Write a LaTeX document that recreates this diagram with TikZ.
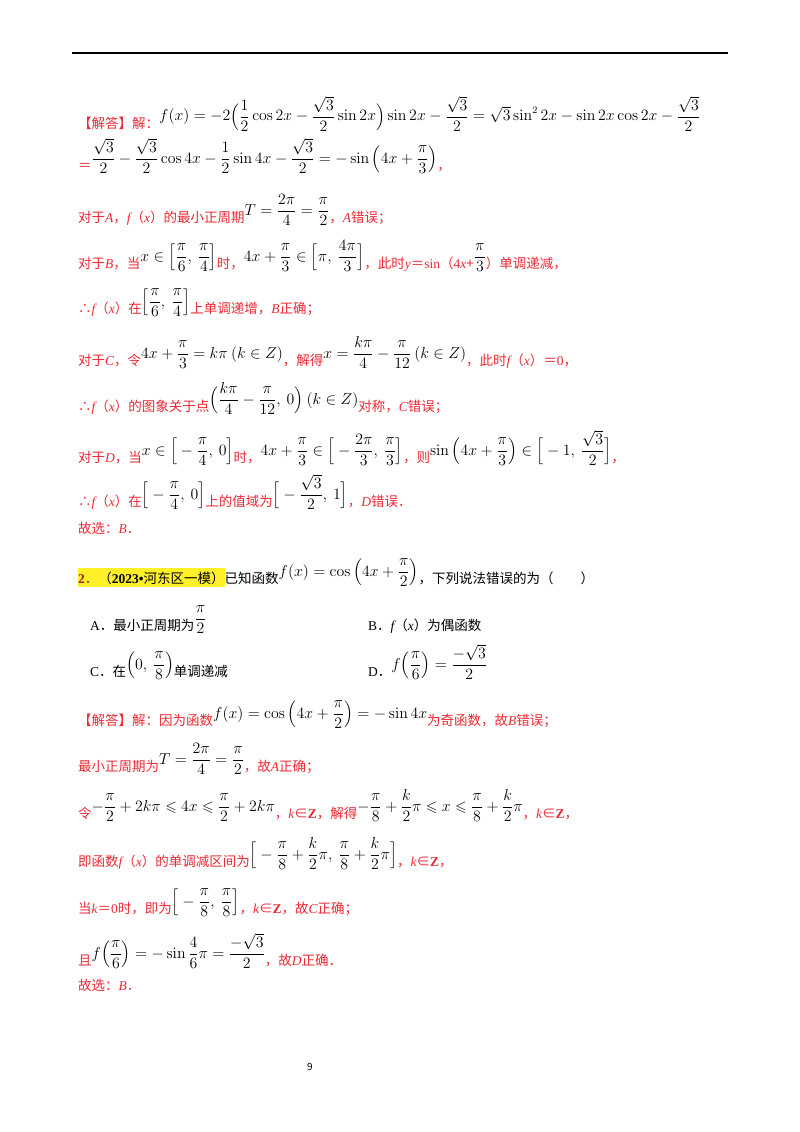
\documentclass[tikz,border=0pt]{standalone}
\usepackage{amsmath,amssymb,graphicx}
\usepackage[no-math]{fontspec}
\setmainfont{Noto Sans CJK SC}
\newfontfamily\lat{Liberation Serif}
\definecolor{ans}{RGB}{236,40,52}
\definecolor{hl}{RGB}{255,240,40}
\newcommand\F[1]{\raisebox{7pt}{\scalebox{1.1}{\color{black}$\displaystyle #1$}}}
\newcommand\I[1]{{\lat\itshape #1}}
\newcommand\Z{{\lat\bfseries Z}}
\begin{document}
\begin{tikzpicture}[x=1pt,y=-1pt,
  ln/.style={anchor=base west,inner sep=0pt,font=\fontsize{13.5}{16}\selectfont,text=ans},
  qn/.style={anchor=base west,inner sep=0pt,font=\fontsize{13.5}{16}\selectfont,text=black}]
\useasboundingbox (0,0) rectangle (800,1132);
\draw[line width=1.2pt] (72,53) coordinate (r1) -- (728,53) coordinate (r2);
\node[ln] (l1) at (78,128) {【解答】解：\F{f(x)=-2\Big(\frac12\cos2x-\frac{\sqrt3}{2}\sin2x\Big)\sin2x-\frac{\sqrt3}{2}=\sqrt3\sin^2 2x-\sin2x\cos2x-\frac{\sqrt3}{2}}};
\node[ln] (l2) at (78,170) {＝\F{\frac{\sqrt3}{2}-\frac{\sqrt3}{2}\cos4x-\frac12\sin4x-\frac{\sqrt3}{2}=-\sin\Big(4x+\frac{\pi}{3}\Big)}，};
\node[ln] (l3) at (78,222) {对于\I{A}，\I{f}（\I{x}）的最小正周期\F{T=\frac{2\pi}{4}=\frac{\pi}{2}}，\I{A}错误；};
\node[ln] (l4) at (78,268) {对于\I{B}，当\F{x\in\Big[\frac{\pi}{6},\ \frac{\pi}{4}\Big]}时，\F{4x+\frac{\pi}{3}\in\Big[\pi,\ \frac{4\pi}{3}\Big]}，此时\I{y}＝{\lat sin}（{\lat 4}\I{x}+\F{\frac{\pi}{3}}）单调递减，};
\node[ln] (l5) at (78,313) {∴\I{f}（\I{x}）在\F{\Big[\frac{\pi}{6},\ \frac{\pi}{4}\Big]}上单调递增，\I{B}正确；};
\node[ln] (l6) at (78,365) {对于\I{C}，令\F{4x+\frac{\pi}{3}=k\pi\ (k\in Z)}，解得\F{x=\frac{k\pi}{4}-\frac{\pi}{12}\ (k\in Z)}，此时\I{f}（\I{x}）＝{\lat 0}，};
\node[ln] (l7) at (78,411) {∴\I{f}（\I{x}）的图象关于点\F{\Big(\frac{k\pi}{4}-\frac{\pi}{12},\ 0\Big)\ (k\in Z)}对称，\I{C}错误；};
\node[ln] (l8) at (78,462) {对于\I{D}，当\F{x\in\Big[-\frac{\pi}{4},\ 0\Big]}时，\F{4x+\frac{\pi}{3}\in\Big[-\frac{2\pi}{3},\ \frac{\pi}{3}\Big]}，则\F{\sin\Big(4x+\frac{\pi}{3}\Big)\in\Big[-1,\ \frac{\sqrt3}{2}\Big]}，};
\node[ln] (l9) at (78,506) {∴\I{f}（\I{x}）在\F{\Big[-\frac{\pi}{4},\ 0\Big]}上的值域为\F{\Big[-\frac{\sqrt3}{2},\ 1\Big]}，\I{D}错误．};
\node[ln] (l10) at (78,533) {故选：\I{B}．};
\node[qn] (q0) at (78,583) {\colorbox{hl}{\hspace{-3pt}\textcolor{ans!70!black}{{\lat\bfseries 2}．}（{\lat\bfseries 2023•}河东区一模）\hspace{-3pt}}已知函数\F{f(x)=\cos\Big(4x+\frac{\pi}{2}\Big)}，下列说法错误的为（\qquad）};
\node[qn] (qa) at (90,630) {{\lat A}．最小正周期为\F{\frac{\pi}{2}}};
\node[qn] (qb) at (368,630) {{\lat B}．\I{f}（\I{x}）为偶函数};
\node[qn] (qc) at (90,676) {{\lat C}．在\F{\Big(0,\ \frac{\pi}{8}\Big)}单调递减};
\node[qn] (qd) at (368,676) {{\lat D}．\F{f\Big(\frac{\pi}{6}\Big)=\frac{-\sqrt3}{2}}};
\node[ln] (m1) at (78,725) {【解答】解：因为函数\F{f(x)=\cos\Big(4x+\frac{\pi}{2}\Big)=-\sin4x}为奇函数，故\I{B}错误；};
\node[ln] (m2) at (78,771) {最小正周期为\F{T=\frac{2\pi}{4}=\frac{\pi}{2}}，故\I{A}正确；};
\node[ln] (m3) at (78,818) {令\F{-\frac{\pi}{2}+2k\pi\leqslant4x\leqslant\frac{\pi}{2}+2k\pi}，\I{k}∈\Z，解得\F{-\frac{\pi}{8}+\frac{k}{2}\pi\leqslant x\leqslant\frac{\pi}{8}+\frac{k}{2}\pi}，\I{k}∈\Z，};
\node[ln] (m4) at (78,866) {即函数\I{f}（\I{x}）的单调减区间为\F{\Big[-\frac{\pi}{8}+\frac{k}{2}\pi,\ \frac{\pi}{8}+\frac{k}{2}\pi\Big]}，\I{k}∈\Z，};
\node[ln] (m5) at (78,913) {当\I{k}＝{\lat 0}时，即为\F{\Big[-\frac{\pi}{8},\ \frac{\pi}{8}\Big]}，\I{k}∈\Z，故\I{C}正确；};
\node[ln] (m6) at (78,965) {且\F{f\Big(\frac{\pi}{6}\Big)=-\sin\frac46\pi=\frac{-\sqrt3}{2}}，故\I{D}正确．};
\node[ln] (m7) at (78,990) {故选：\I{B}．};
\node[anchor=base,font=\fontsize{10}{12}\selectfont] (pg) at (310,1070) {9};
\end{tikzpicture}
\end{document}
